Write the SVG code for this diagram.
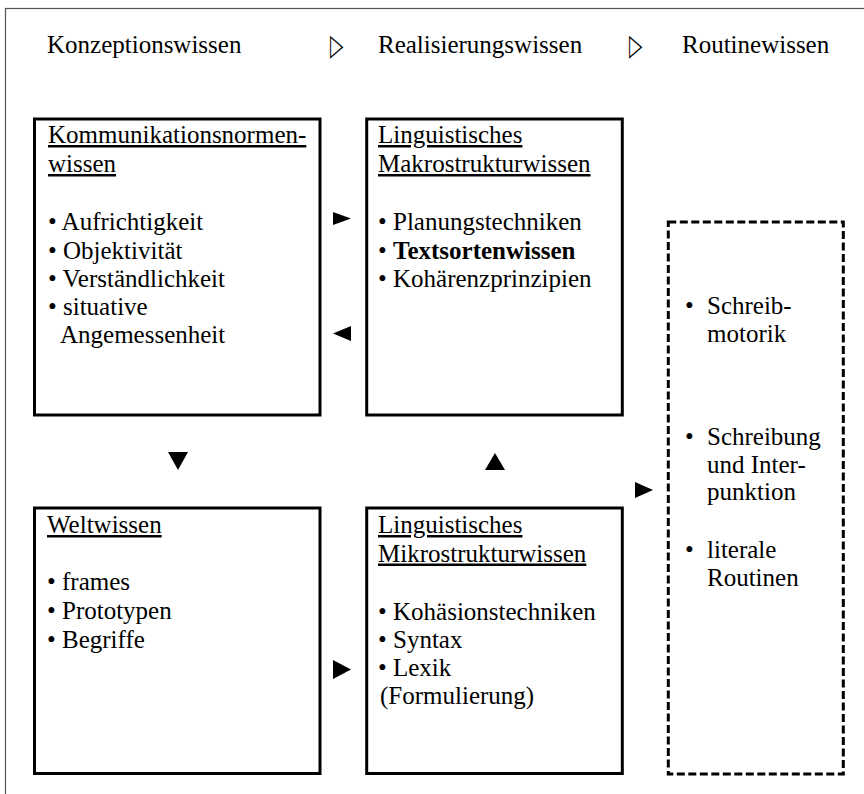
<svg xmlns="http://www.w3.org/2000/svg" width="864" height="794" viewBox="0 0 864 794">
<style>
text{font-family:'Liberation Serif','Times New Roman',serif;font-size:25px;fill:#000}
.h{text-decoration:underline}
.b{font-weight:bold}
.box{fill:#fff;stroke:#000;stroke-width:3}
.dash{fill:#fff;stroke:#000;stroke-width:3;stroke-dasharray:8 3.5}
.sym{font-family:'DejaVu Sans',sans-serif;font-size:30px}
.arr{fill:#000}
</style>
<rect x="5.5" y="8.5" width="870" height="800" fill="#fff" stroke="#555" stroke-width="1.2"/>
<g id="header">
<text x="47" y="53">Konzeptionswissen</text>
<text class="sym" transform="translate(330,55) scale(0.58,1)">▷</text>
<text x="378" y="53">Realisierungswissen</text>
<text class="sym" transform="translate(629,55) scale(0.58,1)">▷</text>
<text x="682" y="53">Routinewissen</text>
</g>
<g id="kommunikation">
<rect class="box" x="34.5" y="119" width="285.5" height="296"/>
<text x="48" y="143" class="h">Kommunikationsnormen-</text>
<text x="48" y="172" class="h">wissen</text>
<text x="48" y="230">• Aufrichtigkeit</text>
<text x="48" y="258.5">• Objektivität</text>
<text x="48" y="287">• Verständlichkeit</text>
<text x="48" y="315">• situative</text>
<text x="60" y="342.5">Angemessenheit</text>
</g>
<g id="makro">
<rect class="box" x="366.7" y="119" width="255.6" height="296"/>
<text x="378" y="143" class="h">Linguistisches</text>
<text x="378" y="172" class="h">Makrostrukturwissen</text>
<text x="378" y="230">• Planungstechniken</text>
<text x="378" y="258.5">• <tspan class="b">Textsortenwissen</tspan></text>
<text x="378" y="287">• Kohärenzprinzipien</text>
</g>
<g id="weltwissen">
<rect class="box" x="34.5" y="508" width="285.5" height="265.5"/>
<text x="47" y="533" class="h">Weltwissen</text>
<text x="47" y="590">• frames</text>
<text x="47" y="619">• Prototypen</text>
<text x="47" y="647.5">• Begriffe</text>
</g>
<g id="mikro">
<rect class="box" x="366.7" y="508" width="255.6" height="265.5"/>
<text x="378" y="533" class="h">Linguistisches</text>
<text x="378" y="561.5" class="h">Mikrostrukturwissen</text>
<text x="378" y="620">• Kohäsionstechniken</text>
<text x="378" y="648">• Syntax</text>
<text x="378" y="676">• Lexik</text>
<text x="380" y="704">(Formulierung)</text>
</g>
<g id="routine">
<rect class="dash" x="668.3" y="222" width="175" height="552"/>
<text x="685" y="314">•</text><text x="707" y="314">Schreib-</text>
<text x="707" y="342">motorik</text>
<text x="685" y="445">•</text><text x="707" y="445">Schreibung</text>
<text x="707" y="472.5">und Inter-</text>
<text x="707" y="500">punktion</text>
<text x="685" y="558">•</text><text x="707" y="558">literale</text>
<text x="707" y="586">Routinen</text>
</g>
<g id="connectors">
<polygon class="arr" points="333,212 351,218.5 333,225"/>
<polygon class="arr" points="351,326 333,333.5 351,341"/>
<polygon class="arr" points="168,452 188,452 178,470"/>
<polygon class="arr" points="485,470 505,470 495,453"/>
<polygon class="arr" points="333,660 351,669.5 333,679"/>
<polygon class="arr" points="635,482 653,490 635,498"/>
</g>
</svg>
